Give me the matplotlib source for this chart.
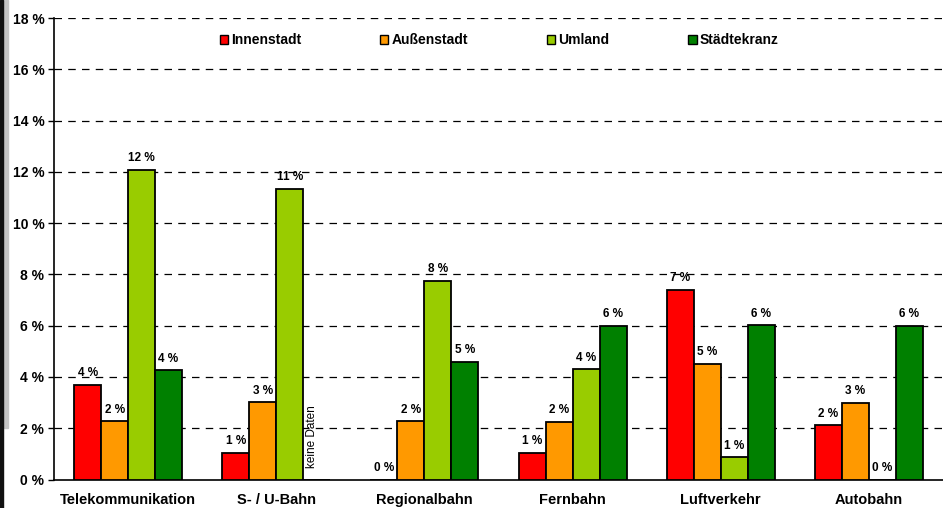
import matplotlib
matplotlib.use("Agg")
import matplotlib.pyplot as plt
import numpy as np
from matplotlib.patches import Rectangle

# ── Data ───────────────────────────────────────────────────
categories = ['Telekommunikation', 'S- / U-Bahn', 'Regionalbahn',
              'Fernbahn', 'Luftverkehr', 'Autobahn']
series = ['Innenstadt', 'Außenstadt', 'Umland', 'Städtekranz']

innenstadt  = [3.70, 1.04, 0.00, 1.04, 7.40, 2.12]
aussenstadt = [2.27, 3.01, 2.27, 2.26, 4.50, 2.99]
umland      = [12.08, 11.33, 7.76, 4.30, 0.86, 0.00]
staedtekranz = [4.26, None, 4.58, 6.00, 6.01, 6.00]   # None = keine Daten

colors = ['#FF0000', '#FF9900', '#99CC00', '#008000']
yticks = [0, 2, 4, 6, 8, 10, 12, 14, 16, 18]

# ── Figure ─────────────────────────────────────────────────
W, H = 943, 508
fig = plt.figure(figsize=(W / 100, H / 100), dpi=100)
plt.rcParams['font.family'] = ['Liberation Sans', 'DejaVu Sans']

ax = fig.add_axes([54 / W, (H - 479.5) / H, (W - 54) / W, (479.5 - 18) / H])

# left frame strip
fig.patches.append(Rectangle((3 / W, 80 / H), 5 / W, 1 - 80 / H,
                             transform=fig.transFigure, color='#c4c4c4', zorder=0))
fig.patches.append(Rectangle((0, 0), 3 / W, 1,
                             transform=fig.transFigure, color='#111111', zorder=1))

x = np.arange(len(categories))
w = 0.182
all_vals = [innenstadt, aussenstadt, umland, staedtekranz]

for k, (name, vals, col) in enumerate(zip(series, all_vals, colors)):
    pos = x + (k - 1.5) * w
    heights = [v if v is not None else 0 for v in vals]
    ax.bar(pos, heights, w, color=col, edgecolor='black', linewidth=1.3,
           label=name, zorder=3)
    for p, v in zip(pos, vals):
        if v is None:
            ax.text(p - 0.03, 0.45, 'keine Daten', rotation=90, ha='center',
                    va='bottom', fontsize=8.5)
            continue
        ax.text(p, v + 0.22, f'{int(v + 0.5):d} %', ha='center', va='bottom',
                fontsize=8.5, fontweight='bold', zorder=4)

ax.set_xlim(-0.5, len(categories) - 0.5)
ax.set_ylim(0, 18)
ax.set_yticks(yticks)
ax.set_yticklabels([f'{t} %' for t in yticks], fontsize=10, fontweight='bold')
ax.set_xticks(x)
ax.set_xticklabels(categories, fontsize=10.5, fontweight='bold')
ax.tick_params(axis='x', length=0, pad=10)
ax.tick_params(axis='y', length=4, width=1, pad=3, direction='out')

for t in yticks[1:]:
    ax.axhline(t, color='black', linestyle=(0, (6, 5)), linewidth=0.9, zorder=1)

ax.spines['top'].set_visible(False)
ax.spines['right'].set_visible(False)
ax.spines['left'].set_linewidth(1.2)
ax.spines['bottom'].set_linewidth(1.2)

leg = ax.legend(ncol=4, loc='center left', bbox_to_anchor=(153 / 889, 1 - 22 / 461.5),
                frameon=False, handlelength=0.6, handleheight=0.6,
                handletextpad=0.25, columnspacing=5.65,
                prop={'size': 10, 'weight': 'bold'})
for h in leg.legend_handles:
    h.set_linewidth(1.0)

plt.savefig('out.png', dpi=100)
